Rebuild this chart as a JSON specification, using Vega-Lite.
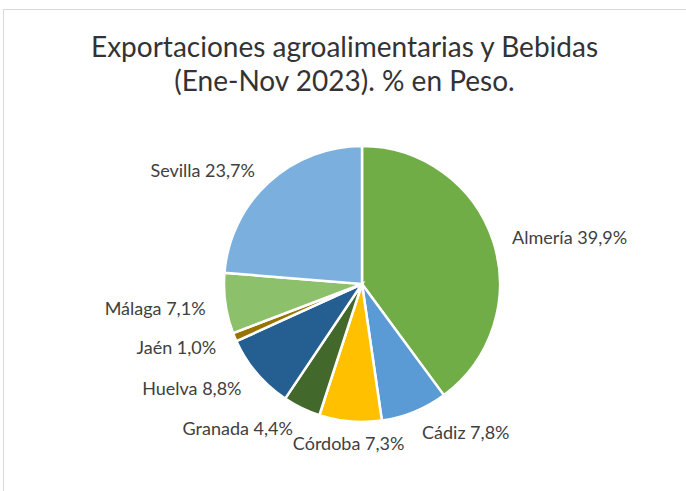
{
  "$schema": "https://vega.github.io/schema/vega-lite/v6.json",
  "width": 683,
  "height": 482,
  "autosize": "none",
  "padding": {"left": 3, "top": 9, "right": 0, "bottom": 0},
  "background": "white",
  "view": {"stroke": "#D9D9D9", "strokeWidth": 1, "fill": "white"},
  "title": {
    "text": ["Exportaciones agroalimentarias y Bebidas", "(Ene-Nov 2023). % en Peso."],
    "font": "Lato",
    "fontSize": 28,
    "fontWeight": "normal",
    "color": "#333333",
    "lineHeight": 34,
    "anchor": "middle",
    "baseline": "top",
    "offset": -88
  },
  "data": {
    "values": [
      {"region": "Almería", "pct": 39.9, "label": "Almería 39,9%"},
      {"region": "Cádiz", "pct": 7.8, "label": "Cádiz 7,8%"},
      {"region": "Córdoba", "pct": 7.3, "label": "Córdoba 7,3%"},
      {"region": "Granada", "pct": 4.4, "label": "Granada 4,4%"},
      {"region": "Huelva", "pct": 8.8, "label": "Huelva 8,8%"},
      {"region": "Jaén", "pct": 1.0, "label": "Jaén 1,0%"},
      {"region": "Málaga", "pct": 7.1, "label": "Málaga 7,1%"},
      {"region": "Sevilla", "pct": 23.7, "label": "Sevilla 23,7%"}
    ]
  },
  "layer": [
    {
      "mark": {"type": "arc", "outerRadius": 138, "x": 359, "y": 275, "stroke": "white", "strokeWidth": 2.5},
      "encoding": {
        "theta": {"field": "pct", "type": "quantitative", "stack": true},
        "order": {"field": "region"},
        "color": {
          "field": "region",
          "type": "nominal",
          "legend": null,
          "scale": {
            "domain": ["Almería", "Cádiz", "Córdoba", "Granada", "Huelva", "Jaén", "Málaga", "Sevilla"],
            "range": ["#70AD47", "#5B9BD5", "#FFC000", "#43682B", "#255E91", "#997300", "#8DC06A", "#7BAFDE"]
          }
        }
      }
    },
    {
      "mark": {
        "type": "text",
        "radius": 158,
        "x": 359,
        "y": 275,
        "dy": 4,
        "align": {"expr": "abs((datum.pct_start + datum.pct_end) / 2 - 50) < 3 ? 'center' : (datum.pct_start + datum.pct_end < 100 ? 'left' : 'right')"},
        "baseline": "middle",
        "font": "Lato",
        "fontSize": 18,
        "color": "#404040"
      },
      "encoding": {
        "theta": {"field": "pct", "type": "quantitative", "stack": true},
        "order": {"field": "region"},
        "text": {"field": "label"}
      }
    }
  ],
  "config": {
    "view": {"stroke": "#D9D9D9", "strokeWidth": 1}
  }
}
